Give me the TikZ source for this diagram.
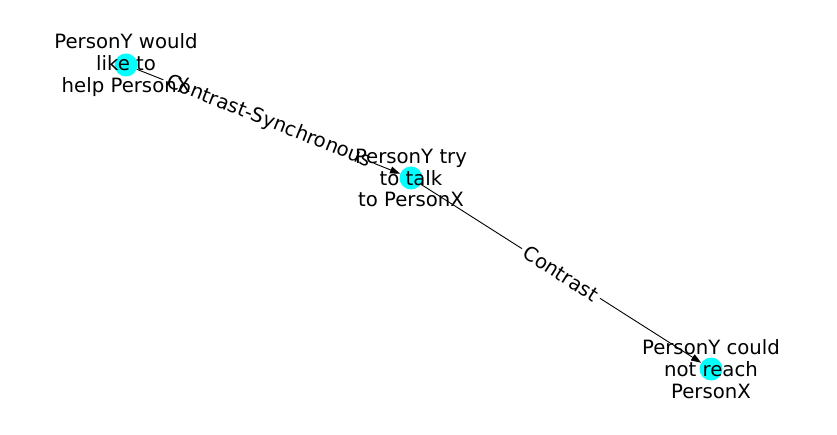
\documentclass[tikz,border=0pt]{standalone}
\usepackage{fontspec}
\setmainfont{DejaVu Sans}
\usetikzlibrary{arrows.meta}
\definecolor{nodecyan}{RGB}{0,255,255}
\begin{document}
\begin{tikzpicture}[x=1pt,y=1pt,
  vertex/.style={circle,fill=nodecyan,draw=none,minimum size=23pt,inner sep=0pt},
  vlabel/.style={align=center,inner sep=0pt,font=\fontsize{19.7}{21.7}\selectfont},
  elabel/.style={midway,sloped,fill=white,inner sep=4pt,font=\fontsize{19.7}{21.7}\selectfont},
  edge/.style={line width=0.9pt,-{Triangle[length=10pt,width=7pt]}}]
\useasboundingbox (0,0) rectangle (837,434);
\node[vertex] (c1) at (126,369) {};
\node[vertex] (c2) at (411,256) {};
\node[vertex] (c3) at (711,65) {};
\draw[edge] (c1) -- node[elabel] (e1) {Contrast-Synchronous} (c2);
\draw[edge] (c2) -- node[elabel] (e2) {Contrast} (c3);
\node[vlabel] (l1) at (c1) {PersonY would\\like to\\help PersonX};
\node[vlabel] (l2) at (c2) {PersonY try\\to talk\\to PersonX};
\node[vlabel] (l3) at (c3) {PersonY could\\not reach\\PersonX};
\end{tikzpicture}
\end{document}
